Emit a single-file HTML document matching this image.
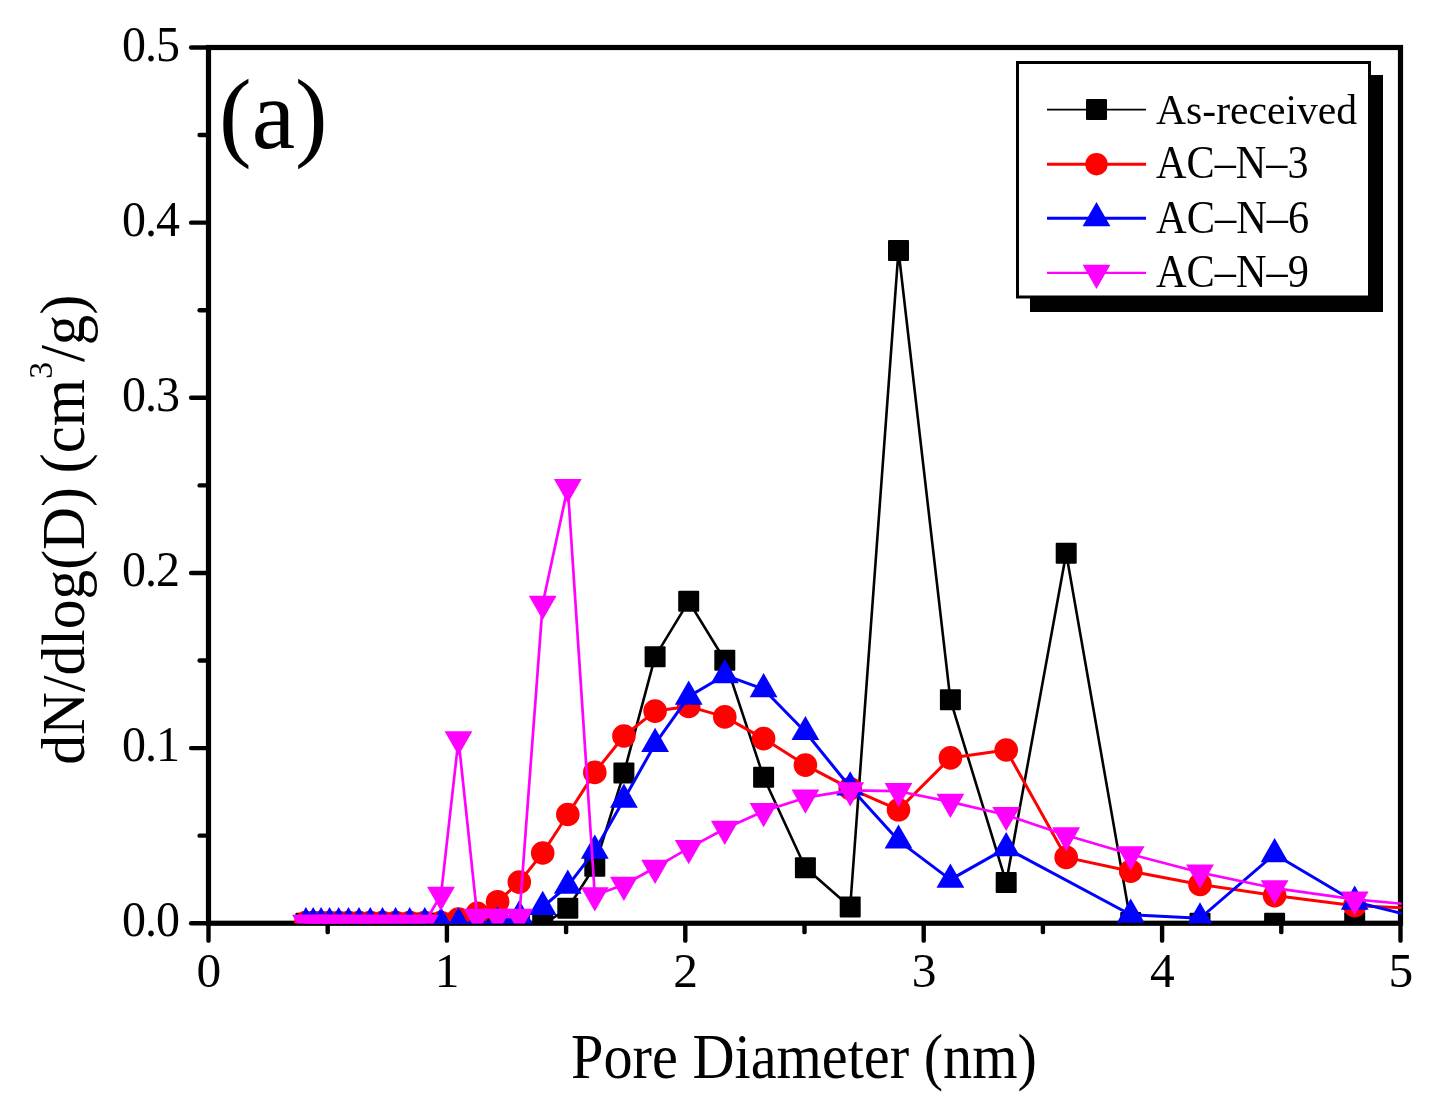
<!DOCTYPE html>
<html><head><meta charset="utf-8"><title>Pore size distribution</title>
<style>
html,body{margin:0;padding:0;background:#fff;}
body{width:1429px;height:1102px;overflow:hidden;font-family:"Liberation Serif",serif;}
svg{display:block;}
text{font-family:"Liberation Serif",serif;fill:#000;}
.t{opacity:0.9995;}
</style></head><body>
<svg width="1429" height="1102" viewBox="0 0 1429 1102">
<rect x="0" y="0" width="1429" height="1102" fill="#fff"/>
<defs><clipPath id="plot"><rect x="206.00" y="45.00" width="1195.70" height="878.55"/></clipPath></defs>
<g class="t">

<g stroke="#000" stroke-width="5.2" fill="none" stroke-linecap="butt">
<rect x="208.50" y="47.50" width="1192.00" height="875.75"/>
<line x1="208.50" y1="923.25" x2="191.10" y2="923.25" stroke-linecap="round" stroke-width="4.4"/>
<line x1="208.50" y1="835.67" x2="199.60" y2="835.67" stroke-linecap="round" stroke-width="4.4"/>
<line x1="208.50" y1="748.10" x2="191.10" y2="748.10" stroke-linecap="round" stroke-width="4.4"/>
<line x1="208.50" y1="660.52" x2="199.60" y2="660.52" stroke-linecap="round" stroke-width="4.4"/>
<line x1="208.50" y1="572.95" x2="191.10" y2="572.95" stroke-linecap="round" stroke-width="4.4"/>
<line x1="208.50" y1="485.38" x2="199.60" y2="485.38" stroke-linecap="round" stroke-width="4.4"/>
<line x1="208.50" y1="397.80" x2="191.10" y2="397.80" stroke-linecap="round" stroke-width="4.4"/>
<line x1="208.50" y1="310.22" x2="199.60" y2="310.22" stroke-linecap="round" stroke-width="4.4"/>
<line x1="208.50" y1="222.65" x2="191.10" y2="222.65" stroke-linecap="round" stroke-width="4.4"/>
<line x1="208.50" y1="135.07" x2="199.60" y2="135.07" stroke-linecap="round" stroke-width="4.4"/>
<line x1="208.50" y1="47.50" x2="191.10" y2="47.50" stroke-linecap="round" stroke-width="4.4"/>
<line x1="208.50" y1="923.25" x2="208.50" y2="940.65" stroke-linecap="round" stroke-width="4.4"/>
<line x1="327.70" y1="923.25" x2="327.70" y2="932.15" stroke-linecap="round" stroke-width="4.4"/>
<line x1="446.90" y1="923.25" x2="446.90" y2="940.65" stroke-linecap="round" stroke-width="4.4"/>
<line x1="566.10" y1="923.25" x2="566.10" y2="932.15" stroke-linecap="round" stroke-width="4.4"/>
<line x1="685.30" y1="923.25" x2="685.30" y2="940.65" stroke-linecap="round" stroke-width="4.4"/>
<line x1="804.50" y1="923.25" x2="804.50" y2="932.15" stroke-linecap="round" stroke-width="4.4"/>
<line x1="923.70" y1="923.25" x2="923.70" y2="940.65" stroke-linecap="round" stroke-width="4.4"/>
<line x1="1042.90" y1="923.25" x2="1042.90" y2="932.15" stroke-linecap="round" stroke-width="4.4"/>
<line x1="1162.10" y1="923.25" x2="1162.10" y2="940.65" stroke-linecap="round" stroke-width="4.4"/>
<line x1="1281.30" y1="923.25" x2="1281.30" y2="932.15" stroke-linecap="round" stroke-width="4.4"/>
<line x1="1400.50" y1="923.25" x2="1400.50" y2="940.65" stroke-linecap="round" stroke-width="4.4"/>
</g>
<g font-size="48" letter-spacing="-1">
<text transform="translate(121.9,936.45) scale(1,1.055)">0.0</text>
<text transform="translate(121.9,761.30) scale(1,1.055)">0.1</text>
<text transform="translate(121.9,586.15) scale(1,1.055)">0.2</text>
<text transform="translate(121.9,411.00) scale(1,1.055)">0.3</text>
<text transform="translate(121.9,235.85) scale(1,1.055)">0.4</text>
<text transform="translate(121.9,60.70) scale(1,1.055)">0.5</text>
</g>
<g font-size="48" text-anchor="middle">
<text transform="translate(208.80,987) scale(1.03,1.006)">0</text>
<text transform="translate(447.20,987) scale(1.03,1.006)">1</text>
<text transform="translate(685.60,987) scale(1.03,1.006)">2</text>
<text transform="translate(924.00,987) scale(1.03,1.006)">3</text>
<text transform="translate(1162.40,987) scale(1.03,1.006)">4</text>
<text transform="translate(1400.80,987) scale(1.03,1.006)">5</text>
</g>
<text transform="translate(571.1,1077.9) scale(1.0044,1.0824)" font-size="58">Pore Diameter (nm)</text>
<text transform="translate(84.4,764.65) rotate(-90) scale(1.0252,1.07)" font-size="58">dN/dlog(D)</text>
<text transform="translate(84.1,473.45) rotate(-90) scale(1.049,1.08)" font-size="58">(cm<tspan font-size="32" dy="-30">3</tspan><tspan dy="30">/g)</tspan></text>
<text transform="translate(219.09,148.28) scale(0.9777,0.9867)" font-size="100">(a)</text>
<g clip-path="url(#plot)">
<polyline fill="none" stroke="#000" stroke-width="2.6" stroke-linejoin="round" points="305.9,923.2 313.2,923.2 321.1,923.2 329.6,923.2 338.7,923.2 348.5,923.2 359.0,923.2 370.3,923.2 382.5,923.2 395.6,923.2 409.7,923.2 424.8,923.2 441.0,923.2 458.5,923.2 477.3,923.2 497.6,923.2 519.3,923.2 542.7,925.0 567.8,908.2 594.8,866.2 623.9,773.1 655.1,656.7 688.7,601.3 724.8,660.2 763.6,777.2 805.4,867.7 850.2,907.0 898.5,250.5 950.4,699.8 1006.2,882.4 1066.2,553.2 1130.7,922.4 1200.0,923.2 1274.6,923.2 1354.7,922.5 1440.9,923.2"/>
<rect x="295.4" y="912.8" width="21.0" height="21.0" rx="1" fill="#000"/>
<rect x="302.7" y="912.8" width="21.0" height="21.0" rx="1" fill="#000"/>
<rect x="310.6" y="912.8" width="21.0" height="21.0" rx="1" fill="#000"/>
<rect x="319.1" y="912.8" width="21.0" height="21.0" rx="1" fill="#000"/>
<rect x="328.2" y="912.8" width="21.0" height="21.0" rx="1" fill="#000"/>
<rect x="338.0" y="912.8" width="21.0" height="21.0" rx="1" fill="#000"/>
<rect x="348.5" y="912.8" width="21.0" height="21.0" rx="1" fill="#000"/>
<rect x="359.8" y="912.8" width="21.0" height="21.0" rx="1" fill="#000"/>
<rect x="372.0" y="912.8" width="21.0" height="21.0" rx="1" fill="#000"/>
<rect x="385.1" y="912.8" width="21.0" height="21.0" rx="1" fill="#000"/>
<rect x="399.2" y="912.8" width="21.0" height="21.0" rx="1" fill="#000"/>
<rect x="414.3" y="912.8" width="21.0" height="21.0" rx="1" fill="#000"/>
<rect x="430.5" y="912.8" width="21.0" height="21.0" rx="1" fill="#000"/>
<rect x="448.0" y="912.8" width="21.0" height="21.0" rx="1" fill="#000"/>
<rect x="466.8" y="912.8" width="21.0" height="21.0" rx="1" fill="#000"/>
<rect x="487.1" y="912.8" width="21.0" height="21.0" rx="1" fill="#000"/>
<rect x="508.8" y="912.8" width="21.0" height="21.0" rx="1" fill="#000"/>
<rect x="532.2" y="914.5" width="21.0" height="21.0" rx="1" fill="#000"/>
<rect x="557.3" y="897.7" width="21.0" height="21.0" rx="1" fill="#000"/>
<rect x="584.3" y="855.7" width="21.0" height="21.0" rx="1" fill="#000"/>
<rect x="613.4" y="762.6" width="21.0" height="21.0" rx="1" fill="#000"/>
<rect x="644.6" y="646.2" width="21.0" height="21.0" rx="1" fill="#000"/>
<rect x="678.2" y="590.8" width="21.0" height="21.0" rx="1" fill="#000"/>
<rect x="714.3" y="649.7" width="21.0" height="21.0" rx="1" fill="#000"/>
<rect x="753.1" y="766.7" width="21.0" height="21.0" rx="1" fill="#000"/>
<rect x="794.9" y="857.2" width="21.0" height="21.0" rx="1" fill="#000"/>
<rect x="839.7" y="896.5" width="21.0" height="21.0" rx="1" fill="#000"/>
<rect x="888.0" y="240.0" width="21.0" height="21.0" rx="1" fill="#000"/>
<rect x="939.9" y="689.3" width="21.0" height="21.0" rx="1" fill="#000"/>
<rect x="995.7" y="871.9" width="21.0" height="21.0" rx="1" fill="#000"/>
<rect x="1055.7" y="542.7" width="21.0" height="21.0" rx="1" fill="#000"/>
<rect x="1120.2" y="911.9" width="21.0" height="21.0" rx="1" fill="#000"/>
<rect x="1189.5" y="912.8" width="21.0" height="21.0" rx="1" fill="#000"/>
<rect x="1264.1" y="912.8" width="21.0" height="21.0" rx="1" fill="#000"/>
<rect x="1344.2" y="912.0" width="21.0" height="21.0" rx="1" fill="#000"/>
<rect x="1430.4" y="912.8" width="21.0" height="21.0" rx="1" fill="#000"/>
<polyline fill="none" stroke="#f00" stroke-width="3" stroke-linejoin="round" points="305.9,922.5 313.2,922.5 321.1,922.5 329.6,922.5 338.7,922.5 348.5,922.5 359.0,922.5 370.3,922.5 382.5,922.5 395.6,922.5 409.7,922.5 424.8,922.5 441.0,922.5 458.5,919.0 477.3,913.4 497.6,901.7 519.3,882.1 542.7,853.0 567.8,814.5 594.8,772.4 623.9,736.0 655.1,711.1 688.7,706.4 724.8,716.9 763.6,738.6 805.4,765.1 850.2,788.7 898.5,809.8 950.4,757.9 1006.2,750.0 1066.2,857.4 1130.7,871.2 1200.0,884.5 1274.6,895.6 1354.7,905.7 1440.9,909.6"/>
<circle cx="305.9" cy="922.5" r="11.80" fill="#f00"/>
<circle cx="313.2" cy="922.5" r="11.80" fill="#f00"/>
<circle cx="321.1" cy="922.5" r="11.80" fill="#f00"/>
<circle cx="329.6" cy="922.5" r="11.80" fill="#f00"/>
<circle cx="338.7" cy="922.5" r="11.80" fill="#f00"/>
<circle cx="348.5" cy="922.5" r="11.80" fill="#f00"/>
<circle cx="359.0" cy="922.5" r="11.80" fill="#f00"/>
<circle cx="370.3" cy="922.5" r="11.80" fill="#f00"/>
<circle cx="382.5" cy="922.5" r="11.80" fill="#f00"/>
<circle cx="395.6" cy="922.5" r="11.80" fill="#f00"/>
<circle cx="409.7" cy="922.5" r="11.80" fill="#f00"/>
<circle cx="424.8" cy="922.5" r="11.80" fill="#f00"/>
<circle cx="441.0" cy="922.5" r="11.80" fill="#f00"/>
<circle cx="458.5" cy="919.0" r="11.80" fill="#f00"/>
<circle cx="477.3" cy="913.4" r="11.80" fill="#f00"/>
<circle cx="497.6" cy="901.7" r="11.80" fill="#f00"/>
<circle cx="519.3" cy="882.1" r="11.80" fill="#f00"/>
<circle cx="542.7" cy="853.0" r="11.80" fill="#f00"/>
<circle cx="567.8" cy="814.5" r="11.80" fill="#f00"/>
<circle cx="594.8" cy="772.4" r="11.80" fill="#f00"/>
<circle cx="623.9" cy="736.0" r="11.80" fill="#f00"/>
<circle cx="655.1" cy="711.1" r="11.80" fill="#f00"/>
<circle cx="688.7" cy="706.4" r="11.80" fill="#f00"/>
<circle cx="724.8" cy="716.9" r="11.80" fill="#f00"/>
<circle cx="763.6" cy="738.6" r="11.80" fill="#f00"/>
<circle cx="805.4" cy="765.1" r="11.80" fill="#f00"/>
<circle cx="850.2" cy="788.7" r="11.80" fill="#f00"/>
<circle cx="898.5" cy="809.8" r="11.80" fill="#f00"/>
<circle cx="950.4" cy="757.9" r="11.80" fill="#f00"/>
<circle cx="1006.2" cy="750.0" r="11.80" fill="#f00"/>
<circle cx="1066.2" cy="857.4" r="11.80" fill="#f00"/>
<circle cx="1130.7" cy="871.2" r="11.80" fill="#f00"/>
<circle cx="1200.0" cy="884.5" r="11.80" fill="#f00"/>
<circle cx="1274.6" cy="895.6" r="11.80" fill="#f00"/>
<circle cx="1354.7" cy="905.7" r="11.80" fill="#f00"/>
<circle cx="1440.9" cy="909.6" r="11.80" fill="#f00"/>
<polyline fill="none" stroke="#00f" stroke-width="3" stroke-linejoin="round" points="305.9,923.2 313.2,923.2 321.1,923.2 329.6,923.2 338.7,923.2 348.5,923.2 359.0,923.2 370.3,923.2 382.5,923.2 395.6,923.2 409.7,923.2 424.8,923.2 441.0,923.2 458.5,923.2 477.3,923.2 497.6,922.0 519.3,916.1 542.7,907.0 567.8,885.8 594.8,850.7 623.9,799.6 655.1,743.9 688.7,696.6 724.8,675.2 763.6,689.2 805.4,732.0 850.2,787.3 898.5,840.6 950.4,879.6 1006.2,848.1 1130.7,914.7 1200.0,918.3 1274.6,854.2 1354.7,901.7 1440.9,923.1"/>
<polygon points="305.9,907.1 292.0,931.3 319.8,931.3" fill="#00f"/>
<polygon points="313.2,907.1 299.3,931.3 327.1,931.3" fill="#00f"/>
<polygon points="321.1,907.1 307.2,931.3 335.0,931.3" fill="#00f"/>
<polygon points="329.6,907.1 315.7,931.3 343.5,931.3" fill="#00f"/>
<polygon points="338.7,907.1 324.8,931.3 352.6,931.3" fill="#00f"/>
<polygon points="348.5,907.1 334.6,931.3 362.4,931.3" fill="#00f"/>
<polygon points="359.0,907.1 345.1,931.3 372.9,931.3" fill="#00f"/>
<polygon points="370.3,907.1 356.4,931.3 384.2,931.3" fill="#00f"/>
<polygon points="382.5,907.1 368.6,931.3 396.4,931.3" fill="#00f"/>
<polygon points="395.6,907.1 381.7,931.3 409.5,931.3" fill="#00f"/>
<polygon points="409.7,907.1 395.8,931.3 423.6,931.3" fill="#00f"/>
<polygon points="424.8,907.1 410.9,931.3 438.7,931.3" fill="#00f"/>
<polygon points="441.0,907.1 427.1,931.3 454.9,931.3" fill="#00f"/>
<polygon points="458.5,907.1 444.6,931.3 472.4,931.3" fill="#00f"/>
<polygon points="477.3,907.1 463.4,931.3 491.2,931.3" fill="#00f"/>
<polygon points="497.6,905.9 483.7,930.1 511.5,930.1" fill="#00f"/>
<polygon points="519.3,899.9 505.4,924.1 533.2,924.1" fill="#00f"/>
<polygon points="542.7,890.8 528.8,915.0 556.6,915.0" fill="#00f"/>
<polygon points="567.8,869.6 553.9,893.8 581.7,893.8" fill="#00f"/>
<polygon points="594.8,834.6 580.9,858.8 608.7,858.8" fill="#00f"/>
<polygon points="623.9,783.5 610.0,807.7 637.8,807.7" fill="#00f"/>
<polygon points="655.1,727.8 641.2,752.0 669.0,752.0" fill="#00f"/>
<polygon points="688.7,680.5 674.8,704.7 702.6,704.7" fill="#00f"/>
<polygon points="724.8,659.1 710.9,683.3 738.7,683.3" fill="#00f"/>
<polygon points="763.6,673.1 749.7,697.3 777.5,697.3" fill="#00f"/>
<polygon points="805.4,715.9 791.5,740.1 819.3,740.1" fill="#00f"/>
<polygon points="850.2,771.2 836.3,795.4 864.1,795.4" fill="#00f"/>
<polygon points="898.5,824.4 884.6,848.6 912.4,848.6" fill="#00f"/>
<polygon points="950.4,863.5 936.5,887.7 964.3,887.7" fill="#00f"/>
<polygon points="1006.2,832.0 992.3,856.2 1020.1,856.2" fill="#00f"/>
<polygon points="1130.7,898.5 1116.8,922.7 1144.6,922.7" fill="#00f"/>
<polygon points="1200.0,902.2 1186.1,926.4 1213.9,926.4" fill="#00f"/>
<polygon points="1274.6,838.1 1260.7,862.3 1288.5,862.3" fill="#00f"/>
<polygon points="1354.7,885.6 1340.8,909.8 1368.6,909.8" fill="#00f"/>
<polygon points="1440.9,906.9 1427.0,931.1 1454.8,931.1" fill="#00f"/>
<polyline fill="none" stroke="#f0f" stroke-width="2.7" stroke-linejoin="round" points="305.9,922.7 313.2,922.7 321.1,922.7 329.6,922.7 338.7,922.7 348.5,922.7 359.0,922.7 370.3,922.7 382.5,922.7 395.6,922.7 409.7,922.7 424.8,922.7 441.0,894.9 458.5,739.3 477.3,916.8 497.6,916.8 519.3,916.8 542.7,603.8 567.8,487.1 594.8,895.2 623.9,884.7 655.1,867.7 688.7,848.1 724.8,828.8 763.6,811.2 805.4,797.7 850.2,790.3 898.5,791.2 950.4,801.9 1006.2,815.0 1066.2,835.3 1130.7,854.2 1200.0,872.5 1274.6,888.2 1354.7,899.4 1440.9,907.3"/>
<polygon points="305.9,938.9 292.0,914.7 319.8,914.7" fill="#f0f"/>
<polygon points="313.2,938.9 299.3,914.7 327.1,914.7" fill="#f0f"/>
<polygon points="321.1,938.9 307.2,914.7 335.0,914.7" fill="#f0f"/>
<polygon points="329.6,938.9 315.7,914.7 343.5,914.7" fill="#f0f"/>
<polygon points="338.7,938.9 324.8,914.7 352.6,914.7" fill="#f0f"/>
<polygon points="348.5,938.9 334.6,914.7 362.4,914.7" fill="#f0f"/>
<polygon points="359.0,938.9 345.1,914.7 372.9,914.7" fill="#f0f"/>
<polygon points="370.3,938.9 356.4,914.7 384.2,914.7" fill="#f0f"/>
<polygon points="382.5,938.9 368.6,914.7 396.4,914.7" fill="#f0f"/>
<polygon points="395.6,938.9 381.7,914.7 409.5,914.7" fill="#f0f"/>
<polygon points="409.7,938.9 395.8,914.7 423.6,914.7" fill="#f0f"/>
<polygon points="424.8,938.9 410.9,914.7 438.7,914.7" fill="#f0f"/>
<polygon points="441.0,911.0 427.1,886.8 454.9,886.8" fill="#f0f"/>
<polygon points="458.5,755.5 444.6,731.3 472.4,731.3" fill="#f0f"/>
<polygon points="477.3,932.9 463.4,908.7 491.2,908.7" fill="#f0f"/>
<polygon points="497.6,932.9 483.7,908.7 511.5,908.7" fill="#f0f"/>
<polygon points="519.3,932.9 505.4,908.7 533.2,908.7" fill="#f0f"/>
<polygon points="542.7,619.9 528.8,595.7 556.6,595.7" fill="#f0f"/>
<polygon points="567.8,503.3 553.9,479.1 581.7,479.1" fill="#f0f"/>
<polygon points="594.8,911.4 580.9,887.2 608.7,887.2" fill="#f0f"/>
<polygon points="623.9,900.9 610.0,876.7 637.8,876.7" fill="#f0f"/>
<polygon points="655.1,883.9 641.2,859.7 669.0,859.7" fill="#f0f"/>
<polygon points="688.7,864.2 674.8,840.0 702.6,840.0" fill="#f0f"/>
<polygon points="724.8,845.0 710.9,820.8 738.7,820.8" fill="#f0f"/>
<polygon points="763.6,827.3 749.7,803.1 777.5,803.1" fill="#f0f"/>
<polygon points="805.4,813.8 791.5,789.6 819.3,789.6" fill="#f0f"/>
<polygon points="850.2,806.4 836.3,782.2 864.1,782.2" fill="#f0f"/>
<polygon points="898.5,807.3 884.6,783.1 912.4,783.1" fill="#f0f"/>
<polygon points="950.4,818.0 936.5,793.8 964.3,793.8" fill="#f0f"/>
<polygon points="1006.2,831.1 992.3,806.9 1020.1,806.9" fill="#f0f"/>
<polygon points="1066.2,851.5 1052.3,827.3 1080.1,827.3" fill="#f0f"/>
<polygon points="1130.7,870.4 1116.8,846.2 1144.6,846.2" fill="#f0f"/>
<polygon points="1200.0,888.6 1186.1,864.4 1213.9,864.4" fill="#f0f"/>
<polygon points="1274.6,904.4 1260.7,880.2 1288.5,880.2" fill="#f0f"/>
<polygon points="1354.7,915.6 1340.8,891.4 1368.6,891.4" fill="#f0f"/>
<polygon points="1440.9,923.4 1427.0,899.2 1454.8,899.2" fill="#f0f"/>
</g>
<rect x="1030" y="75" width="353" height="237" fill="#000"/>
<rect x="1017.5" y="62.5" width="352" height="234.5" fill="#fff" stroke="#000" stroke-width="3"/>
<line x1="1047" y1="109.6" x2="1146" y2="109.6" stroke="#000" stroke-width="1.8"/>
<line x1="1047" y1="164.2" x2="1146" y2="164.2" stroke="#f00" stroke-width="3"/>
<line x1="1047" y1="218.2" x2="1146" y2="218.2" stroke="#00f" stroke-width="3"/>
<line x1="1047" y1="272.8" x2="1146" y2="272.8" stroke="#f0f" stroke-width="2.2"/>
<rect x="1086.0" y="99.1" width="21.0" height="21.0" rx="1" fill="#000"/>
<circle cx="1096.5" cy="164.2" r="11.20" fill="#f00"/>
<polygon points="1096.5,202.1 1082.6,226.3 1110.4,226.3" fill="#00f"/>
<polygon points="1096.5,288.9 1082.6,264.7 1110.4,264.7" fill="#f0f"/>
<g font-size="41.5">
<text transform="translate(1156,124.0) scale(1.0035,1.0)">As-received</text>
<text transform="translate(1156,177.9) scale(1.0176,1.1)">AC–N–3</text>
<text transform="translate(1156,233.3) scale(1.023,1.1)">AC–N–6</text>
<text transform="translate(1156,287.1) scale(1.02,1.1)">AC–N–9</text>
</g>
</g></svg></body></html>
